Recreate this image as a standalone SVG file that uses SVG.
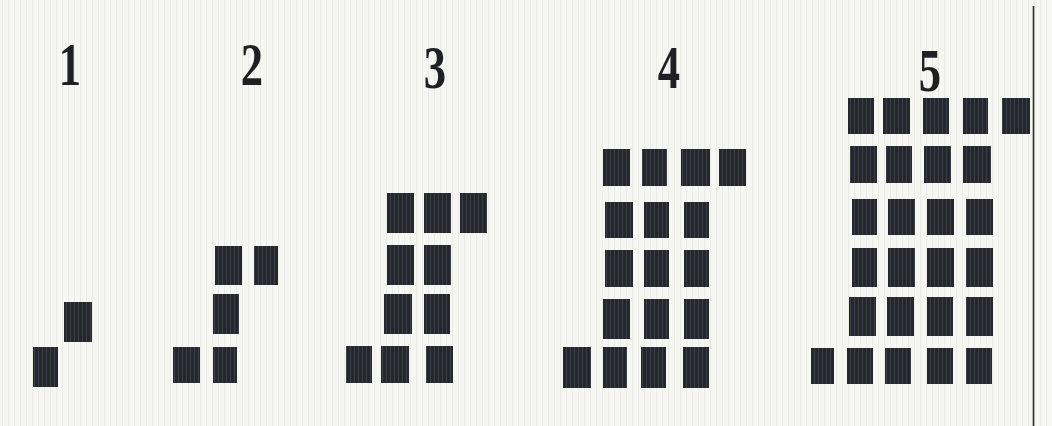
<svg xmlns="http://www.w3.org/2000/svg" width="1052" height="426" viewBox="0 0 1052 426">
  <defs>
    <pattern id="paper" width="6" height="426" patternUnits="userSpaceOnUse">
      <rect width="6" height="426" fill="#f6f6f3"/>
      <rect x="2" width="1" height="426" fill="#ebebe6"/>
    </pattern>
    <pattern id="stripe" width="4" height="60" patternUnits="userSpaceOnUse">
      <rect width="4" height="60" fill="#25272d"/>
      <rect x="2" width="1" height="60" fill="#3b3e46"/>
    </pattern>
    <style>
      .blk { fill: url(#stripe); }
      .num { font-family: "Liberation Serif", "Times New Roman", serif; font-size: 62px; font-weight: bold; fill: #1e2024; text-anchor: middle; }
    </style>
  </defs>
  <rect width="1052" height="426" fill="url(#paper)"/>
  <line x1="1033.5" y1="6" x2="1033.5" y2="426" stroke="#2a2a2e" stroke-width="1.6"/>

  <g id="label-1"><text class="num" transform="translate(70,85) scale(0.72,1)">1</text></g>
  <g id="label-2"><text class="num" transform="translate(252,85) scale(0.72,1)">2</text></g>
  <g id="label-3"><text class="num" transform="translate(435,88) scale(0.72,1)">3</text></g>
  <g id="label-4"><text class="num" transform="translate(669,88) scale(0.72,1)">4</text></g>
  <g id="label-5"><text class="num" transform="translate(930,91) scale(0.72,1)">5</text></g>

  <g id="figure-1">
    <rect class="blk" x="33" y="347" width="25" height="40"/>
    <rect class="blk" x="64" y="302" width="28" height="40"/>
  </g>

  <g id="figure-2">
    <rect class="blk" x="215" y="246" width="27" height="39"/>
    <rect class="blk" x="254" y="246" width="24" height="39"/>
    <rect class="blk" x="213" y="294" width="26" height="40"/>
    <rect class="blk" x="173" y="347" width="27" height="36"/>
    <rect class="blk" x="213" y="347" width="24" height="36"/>
  </g>

  <g id="figure-3">
    <rect class="blk" x="387" y="193" width="27" height="40"/>
    <rect class="blk" x="424" y="193" width="27" height="40"/>
    <rect class="blk" x="460" y="193" width="27" height="40"/>
    <rect class="blk" x="387" y="245" width="27" height="40"/>
    <rect class="blk" x="424" y="245" width="27" height="40"/>
    <rect class="blk" x="384" y="294" width="28" height="40"/>
    <rect class="blk" x="424" y="294" width="26" height="40"/>
    <rect class="blk" x="346" y="346" width="26" height="37"/>
    <rect class="blk" x="381" y="346" width="28" height="37"/>
    <rect class="blk" x="426" y="346" width="27" height="37"/>
  </g>

  <g id="figure-4">
    <rect class="blk" x="603" y="149" width="27" height="37"/>
    <rect class="blk" x="642" y="149" width="25" height="37"/>
    <rect class="blk" x="681" y="149" width="29" height="37"/>
    <rect class="blk" x="719" y="149" width="27" height="37"/>
    <rect class="blk" x="605" y="202" width="28" height="36"/>
    <rect class="blk" x="644" y="202" width="25" height="36"/>
    <rect class="blk" x="684" y="202" width="25" height="36"/>
    <rect class="blk" x="605" y="250" width="28" height="37"/>
    <rect class="blk" x="644" y="250" width="25" height="37"/>
    <rect class="blk" x="684" y="250" width="25" height="37"/>
    <rect class="blk" x="603" y="299" width="27" height="40"/>
    <rect class="blk" x="644" y="299" width="25" height="40"/>
    <rect class="blk" x="684" y="299" width="25" height="40"/>
    <rect class="blk" x="563" y="347" width="28" height="41"/>
    <rect class="blk" x="603" y="347" width="24" height="41"/>
    <rect class="blk" x="641" y="347" width="25" height="41"/>
    <rect class="blk" x="683" y="347" width="26" height="41"/>
  </g>

  <g id="figure-5">
    <rect class="blk" x="848" y="98" width="26" height="36"/>
    <rect class="blk" x="883" y="98" width="27" height="36"/>
    <rect class="blk" x="923" y="98" width="26" height="36"/>
    <rect class="blk" x="963" y="98" width="25" height="36"/>
    <rect class="blk" x="1002" y="98" width="28" height="36"/>
    <rect class="blk" x="850" y="146" width="27" height="37"/>
    <rect class="blk" x="886" y="146" width="26" height="37"/>
    <rect class="blk" x="924" y="146" width="27" height="37"/>
    <rect class="blk" x="963" y="146" width="28" height="37"/>
    <rect class="blk" x="852" y="199" width="25" height="36"/>
    <rect class="blk" x="888" y="199" width="27" height="36"/>
    <rect class="blk" x="927" y="199" width="27" height="36"/>
    <rect class="blk" x="966" y="199" width="27" height="36"/>
    <rect class="blk" x="852" y="248" width="25" height="39"/>
    <rect class="blk" x="888" y="248" width="27" height="39"/>
    <rect class="blk" x="927" y="248" width="27" height="39"/>
    <rect class="blk" x="966" y="248" width="27" height="39"/>
    <rect class="blk" x="849" y="297" width="27" height="39"/>
    <rect class="blk" x="887" y="297" width="27" height="39"/>
    <rect class="blk" x="927" y="297" width="26" height="39"/>
    <rect class="blk" x="966" y="297" width="27" height="39"/>
    <rect class="blk" x="811" y="348" width="23" height="36"/>
    <rect class="blk" x="847" y="348" width="26" height="36"/>
    <rect class="blk" x="885" y="348" width="26" height="36"/>
    <rect class="blk" x="927" y="348" width="26" height="36"/>
    <rect class="blk" x="966" y="348" width="26" height="36"/>
  </g>
</svg>
